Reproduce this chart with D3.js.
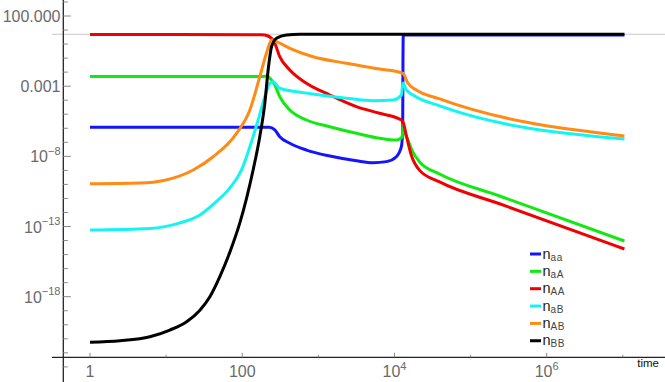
<!doctype html>
<html>
<head>
<meta charset="utf-8">
<style>
  body { margin: 0; background: #fff; }
  svg { display: block; font-family: "Liberation Sans", Arial, Helvetica, sans-serif; }
</style>
<script src="https://cdnjs.cloudflare.com/ajax/libs/d3/7.8.5/d3.min.js"></script>
</head>
<body>
<svg id="chart" width="665" height="382"></svg>
<script>
// [time, population] pairs
var n_aa = [[1,1.17e-6],[225,1.17e-6],[268,7.6e-7],[311,2.5e-7],[422,8.5e-8],[698,2.8e-8],[1413,1.06e-8],
  [3162,4.9e-9],[5224,3.5e-9],[7834,4.2e-9],[10590,9.4e-9],[12330,4.9e-8],[12820,7.6e-7],[12940,0.073],
  [13050,4.4],[21420,4.5],[1.05e7,4.5]];
var n_aA = [[1,4.9e-3],[180,4.9e-3],[215,5.2e-3],[232,3.6e-3],[268,1.2e-3],[311,1.8e-4],[422,2.0e-5],[698,3.9e-6],
  [1413,1.3e-6],[3162,4.4e-7],[6397,1.95e-7],[10590,1.46e-7],[12700,2.5e-7],[12940,2.26e-6],[13800,4.6e-7],
  [15040,1.46e-7],[17500,2.0e-8],[21420,4e-9],[39200,5.5e-10],[240400,1.5e-11],[1.05e7,9.3e-15]];
var n_AA = [[1,4.8],[180,4.7],[219,3.76],[268,1.13],[311,0.126],[422,0.0142],[698,1.6e-3],[1413,2.35e-4],
  [3162,3.5e-5],[6397,1.17e-5],[12330,3.9e-6],[12940,2.9e-6],[14330,3.0e-7],[16660,1.2e-8],
  [21420,1.0e-9],[39200,1.5e-10],[240400,4.2e-12],[1.05e7,2.5e-15]];
var n_aB = [[1,5.6e-14],[6.13,7.2e-14],[15.2,1.8e-13],[27.8,6.6e-13],[43.7,4.8e-12],[68.8,5.6e-11],[97.9,1.07e-9],
  [126,4.9e-8],[162,3.9e-6],[198,1.8e-4],[230,1.6e-3],[254,2.1e-3],[311,7.1e-4],[516,4.1e-4],[1043,2.35e-4],
  [2339,1.38e-4],[5224,9.3e-5],[9550,1.04e-4],[12330,2.35e-4],[12940,1.7e-3],[14330,5.4e-4],[17500,2.35e-4],
  [39200,3.9e-5],[1.05e7,1.7e-7]];
var n_AB = [[1,1.12e-10],[4.53,1.26e-10],[9.64,2.0e-10],[22.7,1.07e-9],[41.5,9.4e-9],[84.2,4.4e-7],[126,2.0e-5],
  [170,4.7e-3],[208,0.22],[243,1.95],[282,1.48],[422,0.50],[852,0.126],[2339,0.043],[6397,0.0167],
  [12330,0.0091],[12940,0.0083],[15040,1.6e-3],[19380,5.4e-4],[39200,1.23e-4],[1.05e7,2.8e-7]];
var n_BB = [[1,5.6e-22],[2.48,7.3e-22],[6.13,1.4e-21],[11.2,4.2e-21],[18.6,1.65e-20],[27.8,1.1e-19],[37.6,1e-18],
  [50.8,2.7e-17],[68.8,1.5e-15],[93,1.8e-13],[115,1.26e-11],[139,1.07e-9],[170,2.5e-7],[198,6e-5],
  [219,0.0142],[243,0.671],[282,2.64],[381,4.5],[570,5.0],[1.05e7,5.0]];

var seriesList = [n_aa, n_aA, n_AA, n_aB, n_AB, n_BB];
var seriesSubs = ["aa", "aA", "AA", "aB", "AB", "BB"];
var seriesColors = ["#1414ff", "#12e812", "#f00000", "#14f4f4", "#ff8a14", "#000000"];

var totalLevel = 5;
var yMajorTicks = [1e2, 1e-3, 1e-8, 1e-13, 1e-18];
var yMajorLabels = [["100.000", ""], ["0.001", ""], ["10", "\u22128"], ["10", "\u221213"], ["10", "\u221218"]];
var xMajorTicks = [1, 100, 1e4, 1e6];
var xMajorLabels = [["1", ""], ["100", ""], ["10", "4"], ["10", "6"]];
var xMinorTicks = [10, 1000, 1e5, 1e7];

var svg = d3.select("#chart");
var x = d3.scaleLog().domain([1, 1e7]).range([90, 622.8]);
var y = d3.scaleLog().domain([1e-18, 1e2]).range([296.7, 16]);

var axisX = 63.3, axisY = 357.3;

// gray reference line
svg.append("line")
  .attr("x1", 52).attr("x2", 665)
  .attr("y1", y(totalLevel)).attr("y2", y(totalLevel))
  .attr("stroke", "#c8c8c8").attr("stroke-width", 1);

// axes
svg.append("line").attr("x1", 52).attr("x2", 665).attr("y1", axisY).attr("y2", axisY)
  .attr("stroke", "#222").attr("stroke-width", 1.3);
svg.append("line").attr("x1", axisX).attr("x2", axisX).attr("y1", 0).attr("y2", 382)
  .attr("stroke", "#222").attr("stroke-width", 1.3);

// y ticks every decade
d3.range(-23, 4).forEach(function(k) {
  var v = Math.pow(10, k);
  var major = yMajorTicks.some(function(m) { return Math.abs(Math.log10(m) - k) < 0.01; });
  svg.append("line")
    .attr("x1", axisX).attr("x2", axisX + (major ? 7.5 : 4.5))
    .attr("y1", y(v)).attr("y2", y(v))
    .attr("stroke", "#888").attr("stroke-width", 1);
});

yMajorTicks.forEach(function(v, i) {
  var t = svg.append("text")
    .attr("x", 60.5).attr("y", y(v) + 6)
    .attr("text-anchor", "end")
    .attr("fill", "#6a6a6a")
    .style("font-size", "16px")
    .text(yMajorLabels[i][0]);
  if (yMajorLabels[i][1]) {
    t.append("tspan").attr("dy", -7.5).style("font-size", "11px").text(yMajorLabels[i][1]);
  }
});

// x ticks
xMajorTicks.forEach(function(v, i) {
  svg.append("line")
    .attr("x1", x(v)).attr("x2", x(v)).attr("y1", axisY).attr("y2", axisY - 4.5)
    .attr("stroke", "#888").attr("stroke-width", 1);
  var t = svg.append("text")
    .attr("x", x(v)).attr("y", 377)
    .attr("text-anchor", "middle")
    .attr("fill", "#6a6a6a")
    .style("font-size", "16px")
    .text(xMajorLabels[i][0]);
  if (xMajorLabels[i][1]) {
    t.append("tspan").attr("dy", -7.5).style("font-size", "11px").text(xMajorLabels[i][1]);
  }
});
xMinorTicks.forEach(function(v) {
  svg.append("line")
    .attr("x1", x(v)).attr("x2", x(v)).attr("y1", axisY).attr("y2", axisY - 2.5)
    .attr("stroke", "#888").attr("stroke-width", 1);
});

svg.append("text")
  .attr("x", 659).attr("y", 367)
  .attr("text-anchor", "end")
  .attr("fill", "#111")
  .style("font-size", "11.5px")
  .text("time");

// curves
var line = d3.line()
  .x(function(d) { return x(d[0]); })
  .y(function(d) { return y(d[1]); })
  .curve(d3.curveMonotoneX);

seriesList.forEach(function(s, i) {
  svg.append("path")
    .datum(s)
    .attr("d", line)
    .attr("fill", "none")
    .attr("stroke", seriesColors[i])
    .attr("stroke-width", 3)
    .attr("stroke-linejoin", "round");
});

// legend
var legY = 254, legStep = 17.35;
seriesSubs.forEach(function(sub, i) {
  var yy = legY + i * legStep;
  svg.append("line")
    .attr("x1", 530).attr("x2", 541)
    .attr("y1", yy).attr("y2", yy)
    .attr("stroke", seriesColors[i]).attr("stroke-width", 3);
  var t = svg.append("text")
    .attr("x", 542.5).attr("y", yy + 4.5)
    .attr("fill", "#222")
    .style("font-size", "14.5px")
    .text("n");
  t.append("tspan").attr("dy", 2).attr("fill", "#444")
    .style("font-size", "10px").style("letter-spacing", "0.6px").text(sub);
});
</script>
</body>
</html>
